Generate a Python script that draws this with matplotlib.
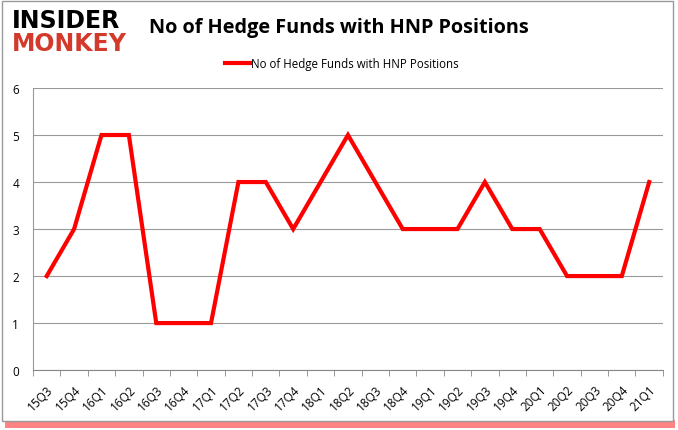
import matplotlib.pyplot as plt
from matplotlib.patches import Rectangle

quarters = ["15Q3", "15Q4", "16Q1", "16Q2", "16Q3", "16Q4", "17Q1", "17Q2", "17Q3", "17Q4",
            "18Q1", "18Q2", "18Q3", "18Q4", "19Q1", "19Q2", "19Q3", "19Q4", "20Q1", "20Q2",
            "20Q3", "20Q4", "21Q1"]
funds = [2, 3, 5, 5, 1, 1, 1, 4, 4, 3, 4, 5, 4, 3, 3, 3, 4, 3, 3, 2, 2, 2, 4]
y_ticks = [0, 1, 2, 3, 4, 5, 6]
series_name = "No of Hedge Funds with HNP Positions"

plt.rcParams['font.family'] = ['Open Sans', 'DejaVu Sans']

fig = plt.figure(figsize=(6.78, 4.31), dpi=100)

# frame with red shadow at the bottom
fig.patches.append(Rectangle((0.008, 0.004), 0.988, 0.02, transform=fig.transFigure,
                             facecolor="#ff3030", edgecolor="none", alpha=0.6, zorder=-3))
fig.patches.append(Rectangle((0.003, 0.022), 0.99, 0.973, transform=fig.transFigure,
                             facecolor="white", edgecolor="#999999", lw=1, zorder=-2))

ax = fig.add_axes([0.0487, 0.139, 0.929, 0.6545])
x = list(range(len(quarters)))
ax.plot(x, funds, color="#ff0000", lw=3, label=series_name, solid_joinstyle="miter")

ax.set_xlim(-0.5, len(quarters) - 0.5)
ax.set_ylim(0, 6)
ax.set_yticks(y_ticks)
ax.set_yticklabels([str(v) for v in y_ticks], fontsize=8.5)
ax.set_xticks(x)
ax.set_xticklabels(quarters, rotation=45, fontsize=8.5, ha="right", rotation_mode="anchor")
ax.set_xticks([i - 0.5 for i in range(len(quarters) + 1)], minor=True)
ax.tick_params(axis="x", which="major", length=0, pad=9)
ax.tick_params(axis="x", which="minor", length=4, color="#888888")
ax.tick_params(axis="y", length=0, pad=10)
ax.grid(axis="y", color="#999999", lw=0.8)
ax.set_axisbelow(True)
for s in ["top", "right"]:
    ax.spines[s].set_visible(False)
ax.spines["left"].set_color("#999999")
ax.spines["bottom"].set_color("#888888")
ax.patch.set_alpha(0)

ax.legend(loc="upper center", bbox_to_anchor=(0.49, 1.145), frameon=False, fontsize=8.3,
          handlelength=2.2, handletextpad=0.1)

fig.text(0.5, 0.935, series_name, ha="center", va="center", fontsize=14.3, fontweight="bold")
fig.text(0.018, 0.952, "INSIDER", ha="left", va="center", fontsize=17, fontweight="heavy",
         color="black", family="DejaVu Sans")
fig.text(0.018, 0.897, "MONKEY", ha="left", va="center", fontsize=17, fontweight="heavy",
         color="#d33a2c", family="DejaVu Sans")

fig.savefig("out.png", dpi=100)
